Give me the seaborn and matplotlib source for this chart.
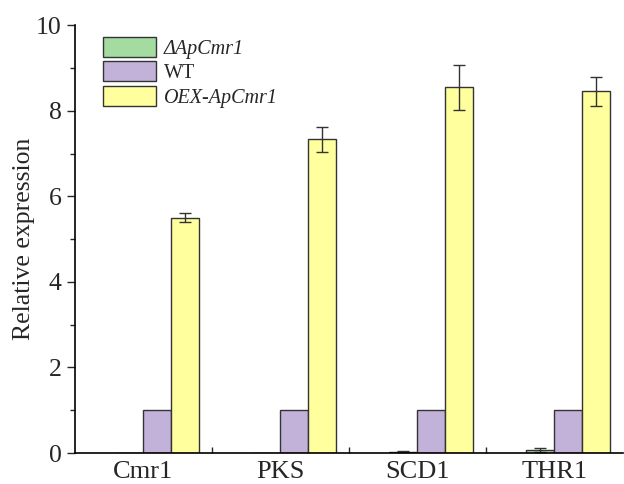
import matplotlib
matplotlib.use("Agg")
import matplotlib.pyplot as plt
import numpy as np
import pandas as pd
import seaborn as sns

genes = ["Cmr1", "PKS", "SCD1", "THR1"]
strains = ["ΔApCmr1", "WT", "OEX-ApCmr1"]
delta_mean = [0.0, 0.01, 0.03, 0.07]
delta_err = [0.0, 0.0, 0.01, 0.04]
wt_mean = [1.0, 1.0, 1.0, 1.0]
wt_err = [0.0, 0.0, 0.0, 0.0]
oex_mean = [5.5, 7.33, 8.55, 8.45]
oex_err = [0.1, 0.3, 0.53, 0.35]

colors = ["#a3dba0", "#c2b2d9", "#ffff9e"]

df = pd.DataFrame({
    "gene": genes * 3,
    "strain": [s for s in strains for _ in genes],
    "value": delta_mean + wt_mean + oex_mean,
})
errs = [delta_err, wt_err, oex_err]

sns.set_style("ticks")
plt.rcParams["font.family"] = ["Liberation Serif", "DejaVu Serif"]

fig = plt.figure(figsize=(6.24, 4.84), dpi=100)
ax = fig.add_axes([0.120, 0.064, 0.878, 0.884])

sns.barplot(data=df, x="gene", y="value", hue="strain", order=genes,
            hue_order=strains, palette=colors, width=0.61, errorbar=None,
            edgecolor="#333333", linewidth=1.0, saturation=1, ax=ax)

# error bars at the bar centres that seaborn placed (skip zero errors)
for cont, err in zip(ax.containers, errs):
    for p, e in zip(cont.patches, err):
        if e <= 0:
            continue
        ax.errorbar(p.get_x() + p.get_width() / 2, p.get_height(), yerr=e,
                    fmt="none", ecolor="#333333", elinewidth=1.0,
                    capsize=4.5, capthick=1.0)

ax.set_ylim(0, 10)
ax.set_xlim(-0.6, 3.4)
ax.set_yticks(np.arange(0, 11, 2))
ax.set_yticks(np.arange(1, 10, 2), minor=True)
ax.set_xticks(np.arange(len(genes)) - 0.1)
ax.set_xticklabels(genes)
ax.set_xticks(np.arange(3) + 0.4, minor=True)
ax.tick_params(axis="x", which="major", length=0, labelsize=19, pad=6)
ax.tick_params(axis="x", which="minor", direction="in", length=4, width=1)
ax.tick_params(axis="y", which="major", direction="out", length=6, width=1,
               labelsize=18.5)
ax.tick_params(axis="y", which="minor", direction="out", length=3.5, width=1)
ax.set_xlabel("")
ax.set_ylabel("Relative expression", fontsize=18.5, labelpad=1)
sns.despine(ax=ax)
for s in ["left", "bottom"]:
    ax.spines[s].set_color("black")
    ax.spines[s].set_linewidth(1.2)

handles, labels = ax.get_legend_handles_labels()
leg = ax.legend(handles, labels, loc="upper left",
                bbox_to_anchor=(0.03, 1.0), frameon=False, fontsize=14.5,
                handlelength=2.6, handleheight=1.15, labelspacing=0.12,
                handletextpad=0.4, borderaxespad=0.2)
leg.get_texts()[0].set_fontstyle("italic")
leg.get_texts()[2].set_fontstyle("italic")

fig.savefig("out.png", dpi=100)
